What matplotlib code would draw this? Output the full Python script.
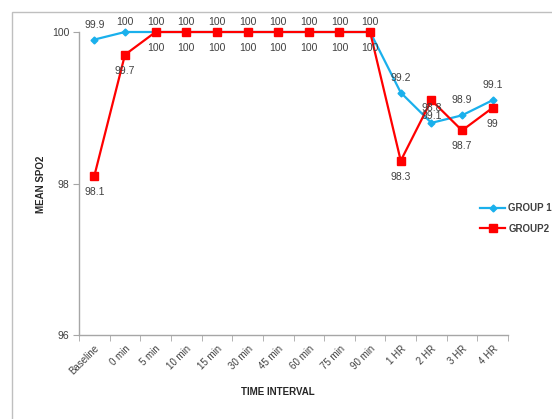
import matplotlib
matplotlib.use("Agg")
import matplotlib.pyplot as plt
from matplotlib.patches import Rectangle
import numpy as np

plt.rcParams['font.family'] = ['Liberation Sans', 'DejaVu Sans']

categories = ["Baseline", "0 min", "5 min", "10 min", "15 min", "30 min", "45 min",
              "60 min", "75 min", "90 min", "1 HR", "2 HR", "3 HR", "4 HR"]
group1 = [99.9, 100, 100, 100, 100, 100, 100, 100, 100, 100, 99.2, 98.8, 98.9, 99.1]
group2 = [98.1, 99.7, 100, 100, 100, 100, 100, 100, 100, 100, 98.3, 99.1, 98.7, 99]
y_ticks = [96, 98, 100]

blue = "#1AB0EC"
red = "#FF0000"
label_color = "#404040"
axis_color = "#A6A6A6"

DPI = 100
fig = plt.figure(figsize=(5.52, 4.19), dpi=DPI)

# outer chart frame
fig.patches.append(Rectangle((12 / 552, -0.2), 1.0, 1 - 12 / 419 + 0.2,
                             transform=fig.transFigure, fill=False,
                             edgecolor="#BFBFBF", linewidth=1.0))

ax_top_px, ax_bot_px = 32, 335
ax = fig.add_axes([79 / 552, 1 - ax_bot_px / 419, (508 - 79) / 552,
                   (ax_bot_px - ax_top_px) / 419])
x = np.arange(len(categories))

ax.plot(x, group1, color=blue, linewidth=1.6, marker="D", markersize=3.5,
        label="GROUP 1", clip_on=False, zorder=3)
ax.plot(x, group2, color=red, linewidth=1.6, marker="s", markersize=6,
        label="GROUP2", clip_on=False, zorder=4)

ax.set_xlim(-0.5, len(categories) - 0.5)
ax.set_ylim(96, 100)

px_per_unit = (ax_bot_px - ax_top_px) / 4.0
pt_per_px = 72.0 / DPI

# group 1 labels above the points, kept inside the chart's top margin
for xi, v in zip(x, group1):
    point_px = ax_top_px + (100 - v) * px_per_unit
    label_px = max(point_px - 15, 22)
    ax.annotate(f"{v:g}", (xi, v), xytext=(0, (point_px - label_px) * pt_per_px),
                textcoords="offset points", ha="center", va="center",
                fontsize=7.5, color=label_color, zorder=5, annotation_clip=False)
# group 2 labels below the points
for xi, v in zip(x, group2):
    ax.annotate(f"{v:g}", (xi, v), xytext=(0, -16 * pt_per_px),
                textcoords="offset points", ha="center", va="center",
                fontsize=7.5, color=label_color, zorder=5, annotation_clip=False)

ax.set_yticks(y_ticks)
ax.set_yticklabels([str(t) for t in y_ticks], fontsize=7.5, color=label_color)
ax.set_xticks(x)
ax.set_xticklabels(categories, rotation=45, ha="right", rotation_mode="anchor",
                   fontsize=7, color=label_color)
ax.set_xticks(np.arange(-0.5, len(categories)), minor=True)
ax.tick_params(axis="x", which="major", length=0, pad=6)
ax.tick_params(axis="x", which="minor", length=4, color=axis_color, direction="out")
ax.tick_params(axis="y", length=4, color=axis_color, direction="out", pad=3)

for side in ["top", "right"]:
    ax.spines[side].set_visible(False)
for side in ["left", "bottom"]:
    ax.spines[side].set_color(axis_color)
    ax.spines[side].set_linewidth(1.0)

fig.text(278 / 552, 1 - 392 / 419, "TIME INTERVAL", ha="center", va="center",
         fontsize=7, fontweight="bold", color="#262626")
fig.text(41 / 552, 1 - 184 / 419, "MEAN SPO2", ha="center", va="center",
         rotation=90, fontsize=7, fontweight="bold", color="#262626")

leg = fig.legend(loc="upper left", bbox_to_anchor=(480 / 552, 1 - 203 / 419),
                 frameon=False, fontsize=7, handlelength=2.6, handletextpad=0.3,
                 labelspacing=1.1, borderpad=0, borderaxespad=0)
for t in leg.get_texts():
    t.set_color("#404040")
    t.set_fontweight("bold")

fig.savefig("out.png", dpi=DPI)
